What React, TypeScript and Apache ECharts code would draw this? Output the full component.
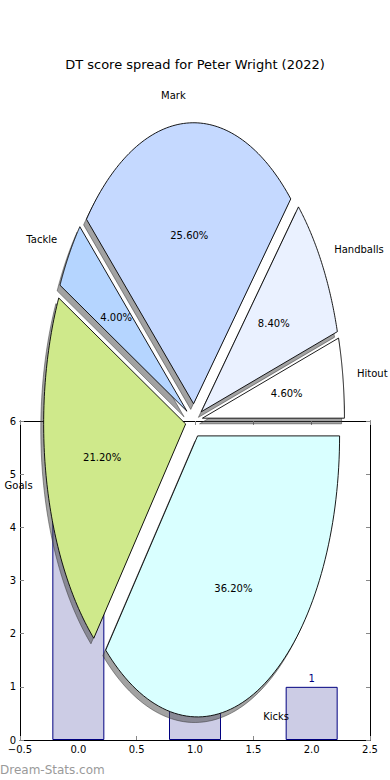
import React, { useEffect, useRef } from "react";
import * as echarts from "echarts";

// ---- data ----
const categories = ["Hitout", "Handballs", "Mark", "Tackle", "Goals", "Kicks"];
const shares = [4.6, 8.4, 25.6, 4.0, 21.2, 36.2];
const barX = [0, 1, 2];
const barValues = [5, 2, 1];

// ---- styles / layout ----
const sliceColors = ["#ffffff", "#eaf1ff", "#c5d9ff", "#b5d5ff", "#cfe98b", "#d9ffff"];
const W = 390;
const H = 780;
const PIE_CX = 194;
const PIE_CY = 420.6;
const RX = 142;
const RY = 281;
const EXPLODE = 0.06;
const FONT = "DejaVu Sans";

const total = shares.reduce((a, b) => a + b, 0);

function fmtX(v: number) {
  const s = v.toFixed(1);
  return s.replace("-", "\u2212");
}

export default function App() {
  const ref = useRef<HTMLDivElement>(null);
  useEffect(() => {
    if (!ref.current) return;
    const chart = echarts.init(ref.current, undefined, { renderer: "svg" });

    const renderItem = (params: any, api: any) => {
      const i = params.dataIndex;
      let cum = 0;
      for (let k = 0; k < i; k++) cum += shares[k];
      const a1 = (2 * Math.PI * cum) / total;
      const a2 = (2 * Math.PI * (cum + shares[i])) / total;
      const mid = (a1 + a2) / 2;
      const ox = EXPLODE * Math.cos(mid);
      const oy = EXPLODE * Math.sin(mid);
      const N = 80;
      const pts: number[][] = [[ox, oy]];
      for (let s = 0; s <= N; s++) {
        const t = a1 + ((a2 - a1) * s) / N;
        pts.push([ox + Math.cos(t), oy + Math.sin(t)]);
      }
      const wedge = pts.map((p) => api.coord(p));
      const shadow = pts.map((p) => api.coord([p[0] - 0.02, p[1] - 0.02]));
      const lab = api.coord([ox + 1.1 * Math.cos(mid), oy + 1.1 * Math.sin(mid)]);
      const pct = api.coord([ox + 0.6 * Math.cos(mid), oy + 0.6 * Math.sin(mid)]);
      return {
        type: "group",
        children: [
          {
            type: "polygon",
            z2: 0,
            shape: { points: shadow },
            style: { fill: "rgba(70,70,70,0.5)", stroke: "rgba(50,50,50,0.5)", lineWidth: 1 },
          },
          {
            type: "polygon",
            z2: 1,
            shape: { points: wedge },
            style: { fill: sliceColors[i], stroke: "#000", lineWidth: 0.9 },
          },
          {
            type: "text",
            z2: 2,
            x: lab[0],
            y: lab[1],
            style: {
              text: categories[i],
              fill: "#000",
              fontSize: 10,
              fontFamily: FONT,
              align: Math.cos(mid) > 0 ? "left" : "right",
              verticalAlign: "middle",
            },
          },
          {
            type: "text",
            z2: 2,
            x: pct[0],
            y: pct[1],
            style: {
              text: shares[i].toFixed(2) + "%",
              fill: "#000",
              fontSize: 10,
              fontFamily: FONT,
              align: "center",
              verticalAlign: "middle",
            },
          },
        ],
      };
    };

    const tickStyle = { show: true, inside: true, length: 4, lineStyle: { color: "#888", width: 1 } };
    const lineStyle = { show: true, onZero: false, lineStyle: { color: "#000", width: 1 } };

    chart.setOption({
      animation: false,
      title: {
        text: "DT score spread for Peter Wright (2022)",
        left: "center",
        top: 53,
        textStyle: { fontSize: 13, fontWeight: "normal", fontFamily: FONT, color: "#000" },
      },
      graphic: [
        {
          type: "text",
          left: 0,
          top: 764,
          style: { text: "Dream-Stats.com", fill: "#9a9a9a", fontSize: 12, fontFamily: FONT },
        },
      ],
      grid: [
        { left: 20, top: 421, width: 350, height: 319, show: false },
        { left: 0, top: 0, width: W, height: H, show: false },
      ],
      xAxis: [
        {
          type: "value",
          gridIndex: 0,
          position: "bottom",
          min: -0.5,
          max: 2.5,
          interval: 0.5,
          axisLine: lineStyle,
          axisTick: tickStyle,
          splitLine: { show: false },
          axisLabel: { formatter: fmtX, color: "#000", fontSize: 10, fontFamily: FONT, margin: 4 },
        },
        {
          type: "value",
          gridIndex: 0,
          position: "top",
          min: -0.5,
          max: 2.5,
          interval: 0.5,
          axisLine: lineStyle,
          axisTick: tickStyle,
          splitLine: { show: false },
          axisLabel: { show: false },
        },
        {
          type: "value",
          gridIndex: 1,
          show: false,
          min: -PIE_CX / RX,
          max: (W - PIE_CX) / RX,
          splitLine: { show: false },
        },
      ],
      yAxis: [
        {
          type: "value",
          gridIndex: 0,
          position: "left",
          min: 0,
          max: 6,
          interval: 1,
          axisLine: lineStyle,
          axisTick: tickStyle,
          splitLine: { show: false },
          axisLabel: { color: "#000", fontSize: 10, fontFamily: FONT, margin: 4 },
        },
        {
          type: "value",
          gridIndex: 0,
          position: "right",
          min: 0,
          max: 6,
          interval: 1,
          axisLine: lineStyle,
          axisTick: tickStyle,
          splitLine: { show: false },
          axisLabel: { show: false },
        },
        {
          type: "value",
          gridIndex: 1,
          show: false,
          min: -(H - PIE_CY) / RY,
          max: PIE_CY / RY,
          splitLine: { show: false },
        },
      ],
      series: [
        {
          type: "bar",
          xAxisIndex: 0,
          yAxisIndex: 0,
          z: 2,
          barWidth: 52,
          data: barX.map((x, i) => [x, barValues[i]]),
          itemStyle: { color: "#cccce5", borderColor: "#000080", borderWidth: 1 },
          label: {
            show: true,
            position: "top",
            distance: 3,
            color: "#000080",
            fontSize: 10,
            fontFamily: FONT,
            formatter: (p: any) => String(p.value[1]),
          },
        },
        {
          type: "custom",
          xAxisIndex: 2,
          yAxisIndex: 2,
          z: 5,
          clip: false,
          data: shares.map((v, i) => [i, v]),
          renderItem,
        },
      ],
    });
    return () => chart.dispose();
  }, []);
  return <div ref={ref} style={{ position: "absolute", left: 0, top: 0, width: W, height: H }} />;
}
